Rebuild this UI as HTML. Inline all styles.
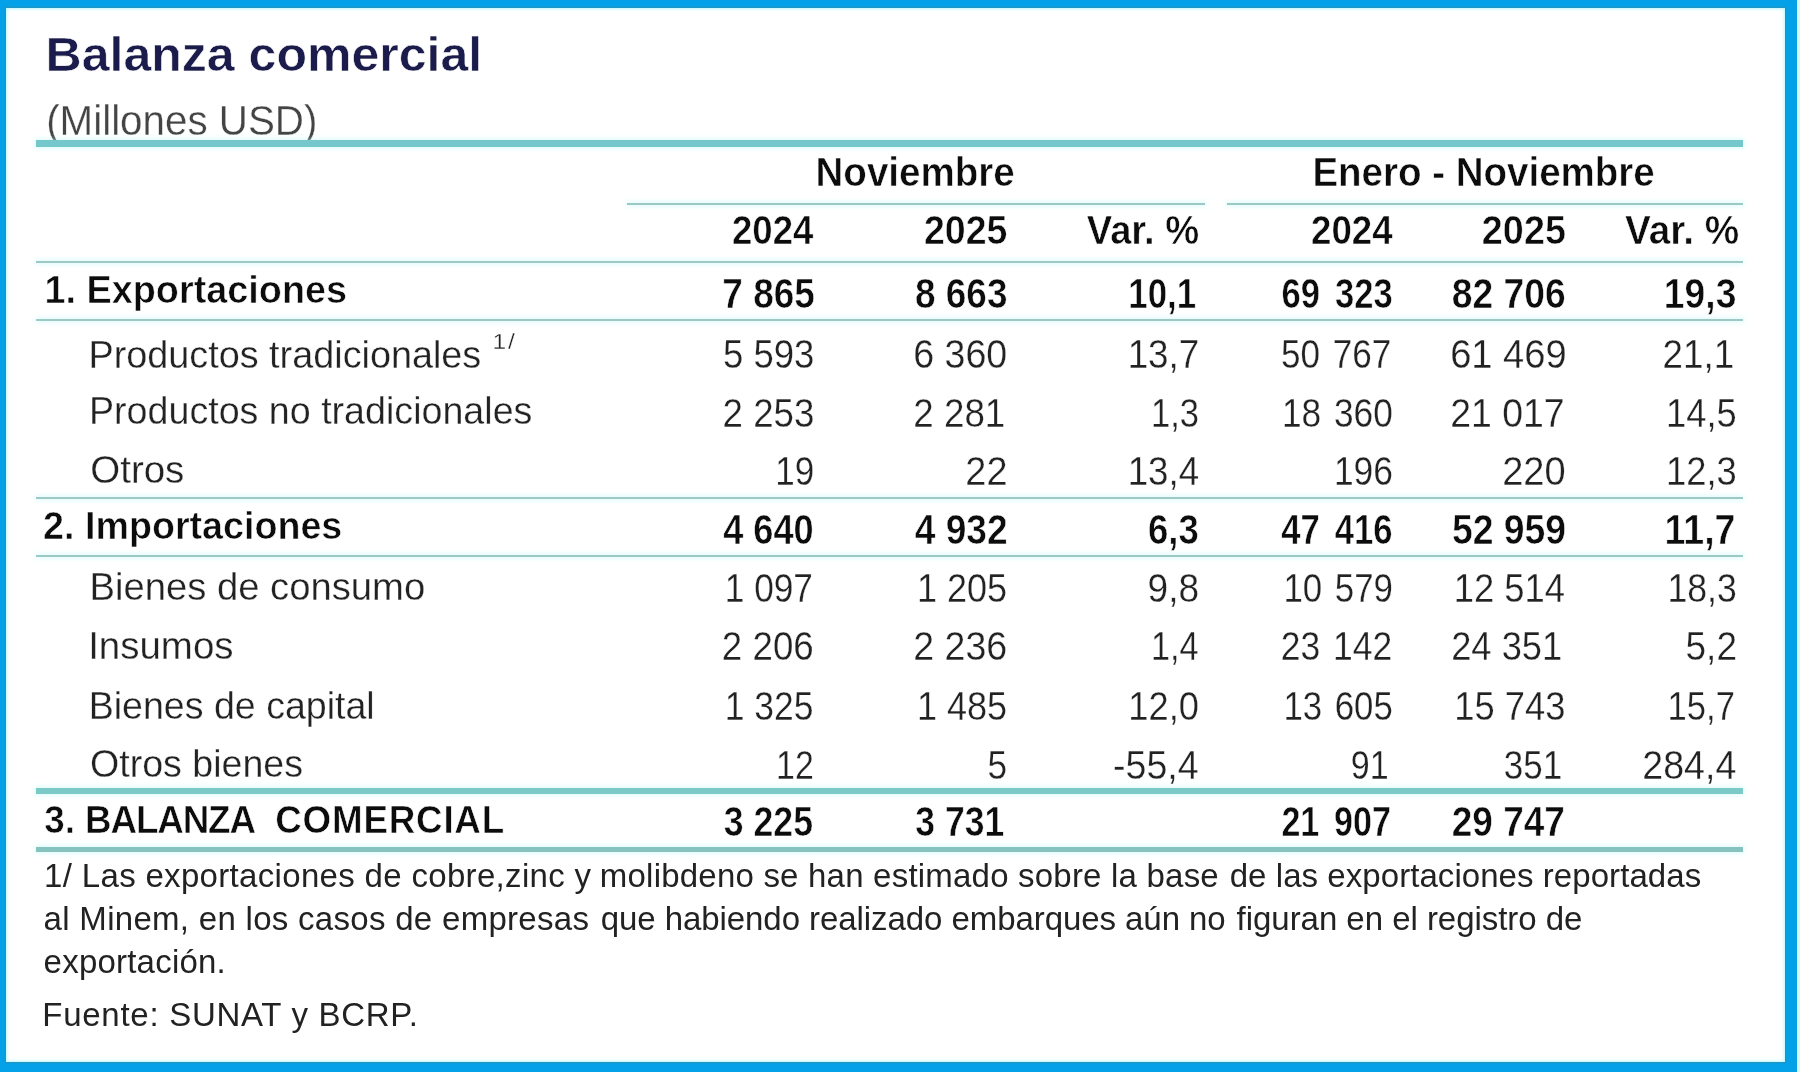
<!DOCTYPE html>
<html lang="es">
<head>
<meta charset="utf-8">
<title>Balanza comercial</title>
<style>
html,body{margin:0;padding:0;background:#fff;}
body{width:1800px;height:1072px;overflow:hidden;position:relative;
 font-family:"Liberation Sans",sans-serif;}
#soft{position:absolute;left:-20px;top:-20px;width:1840px;height:1112px;filter:blur(0.6px);}
#page{position:absolute;left:20px;top:20px;width:1800px;height:1072px;}
#frame{position:absolute;left:-20px;top:-20px;width:1840px;height:1112px;background:#04a1e8;}
#strip{position:absolute;left:1797.4px;top:-20px;width:22.6px;height:1112px;background:#d6fbfd;}
#paper{position:absolute;left:5.6px;top:8px;width:1779.7px;height:1053.8px;background:#fff;
 box-shadow:0 0 0 1.3px #1f95c2, inset 0 0 3.5px .5px rgba(150,243,252,.9);}
.t{position:absolute;left:0;white-space:pre;line-height:1;margin:0;padding:0;transform-origin:0 50%;}
.t{-webkit-text-stroke:.3px #fff;paint-order:fill stroke;}
.b{font-weight:700;-webkit-text-stroke:.55px #fff;}
.f{-webkit-text-stroke:0;}
.ln{position:absolute;z-index:2;box-shadow:0 0 5px 1px rgba(185,245,245,.55);}
</style>
</head>
<body>
<div id="soft"><div id="page">
<div id="frame"></div>
<div id="strip"></div>
<div id="paper"></div>

<div class="ln" style="left:36.3px;top:139.60px;width:1707.0px;height:7.0px;background:#74c8cb"></div>
<div class="ln" style="left:627.4px;top:202.50px;width:578.1px;height:2.0px;background:#9cc8c5"></div>
<div class="ln" style="left:1227.3px;top:202.50px;width:516.0px;height:2.0px;background:#9cc8c5"></div>
<div class="ln" style="left:36.3px;top:261.00px;width:1707.0px;height:2.0px;background:#9cc8c5"></div>
<div class="ln" style="left:36.3px;top:319.20px;width:1707.0px;height:2.0px;background:#9cc8c5"></div>
<div class="ln" style="left:36.3px;top:496.90px;width:1707.0px;height:2.0px;background:#9cc8c5"></div>
<div class="ln" style="left:36.3px;top:555.30px;width:1707.0px;height:2.0px;background:#9cc8c5"></div>
<div class="ln" style="left:36.3px;top:788.20px;width:1707.0px;height:5.4px;background:#7bcac7"></div>
<div class="ln" style="left:36.3px;top:846.80px;width:1707.0px;height:5.2px;background:#86c3bf"></div>
<div id="title" class="t b" style="top:30px;font-size:49px;color:#1c1c4c;transform:translateX(45.50px) scaleX(1.0214)">Balanza comercial</div>
<div id="sub" class="t" style="top:100px;font-size:42px;color:#444;transform:translateX(46.18px) scaleX(0.9606)">(Millones USD)</div>
<div id="g1" class="t b" style="top:152px;font-size:40.5px;color:#0c0c0c;transform:translateX(815.49px) scaleX(0.9521)">Noviembre</div>
<div id="g2" class="t b" style="top:152px;font-size:40.5px;color:#0c0c0c;transform:translateX(1312.40px) scaleX(0.9508)">Enero - Noviembre</div>
<div id="h0" class="t b" style="top:210px;font-size:40.5px;color:#0c0c0c;transform:translateX(732.01px) scaleX(0.9037)">2024</div>
<div id="h1" class="t b" style="top:210px;font-size:40.5px;color:#0c0c0c;transform:translateX(923.98px) scaleX(0.9268)">2025</div>
<div id="h2" class="t b" style="top:210px;font-size:40.5px;color:#0c0c0c;transform:translateX(1086.81px) scaleX(0.9419)">Var. %</div>
<div id="h3" class="t b" style="top:210px;font-size:40.5px;color:#0c0c0c;transform:translateX(1311.11px) scaleX(0.9048)">2024</div>
<div id="h4" class="t b" style="top:210px;font-size:40.5px;color:#0c0c0c;transform:translateX(1481.87px) scaleX(0.9325)">2025</div>
<div id="h5" class="t b" style="top:210px;font-size:40.5px;color:#0c0c0c;transform:translateX(1625.01px) scaleX(0.9563)">Var. %</div>
<div id="l0" class="t b" style="top:270px;font-size:39.3px;color:#0c0c0c;transform:translateX(44.44px) scaleX(0.9622)">1. Exportaciones</div>
<div id="n0_0" class="t b" style="top:273px;font-size:42px;color:#0c0c0c;transform:translateX(722.33px) scaleX(0.8795)">7 865</div>
<div id="n0_1" class="t b" style="top:273px;font-size:42px;color:#0c0c0c;transform:translateX(914.99px) scaleX(0.8796)">8 663</div>
<div id="n0_2" class="t b" style="top:273px;font-size:42px;color:#0c0c0c;transform:translateX(1128.32px) scaleX(0.8305)">10,1</div>
<div id="n0_3" class="t b" style="top:273px;font-size:42px;color:#0c0c0c;word-spacing:6.50px;transform:translateX(1281.39px) scaleX(0.8245)">69 323</div>
<div id="n0_4" class="t b" style="top:273px;font-size:42px;color:#0c0c0c;transform:translateX(1451.78px) scaleX(0.8872)">82 706</div>
<div id="n0_5" class="t b" style="top:273px;font-size:42px;color:#0c0c0c;transform:translateX(1663.87px) scaleX(0.8867)">19,3</div>
<div id="l1" class="t" style="top:335px;font-size:39.3px;color:#222;transform:translateX(88.48px) scaleX(0.9616)">Productos tradicionales</div>
<div id="n1_0" class="t" style="top:334px;font-size:40.5px;color:#222;transform:translateX(722.94px) scaleX(0.9024)">5 593</div>
<div id="n1_1" class="t" style="top:334px;font-size:40.5px;color:#222;transform:translateX(913.32px) scaleX(0.9267)">6 360</div>
<div id="n1_2" class="t" style="top:334px;font-size:40.5px;color:#222;transform:translateX(1127.64px) scaleX(0.9090)">13,7</div>
<div id="n1_3" class="t" style="top:334px;font-size:40.5px;color:#222;word-spacing:3.50px;transform:translateX(1281.10px) scaleX(0.8652)">50 767</div>
<div id="n1_4" class="t" style="top:334px;font-size:40.5px;color:#222;transform:translateX(1450.20px) scaleX(0.9393)">61 469</div>
<div id="n1_5" class="t" style="top:334px;font-size:40.5px;color:#222;transform:translateX(1662.56px) scaleX(0.9074)">21,1</div>
<div id="l2" class="t" style="top:391px;font-size:39.3px;color:#222;transform:translateX(88.99px) scaleX(0.9574)">Productos no tradicionales</div>
<div id="n2_0" class="t" style="top:393px;font-size:40.5px;color:#222;transform:translateX(722.57px) scaleX(0.9061)">2 253</div>
<div id="n2_1" class="t" style="top:393px;font-size:40.5px;color:#222;transform:translateX(913.36px) scaleX(0.9070)">2 281</div>
<div id="n2_2" class="t" style="top:393px;font-size:40.5px;color:#222;transform:translateX(1151.01px) scaleX(0.8525)">1,3</div>
<div id="n2_3" class="t" style="top:393px;font-size:40.5px;color:#222;word-spacing:3.50px;transform:translateX(1281.96px) scaleX(0.8699)">18 360</div>
<div id="n2_4" class="t" style="top:393px;font-size:40.5px;color:#222;transform:translateX(1450.23px) scaleX(0.9234)">21 017</div>
<div id="n2_5" class="t" style="top:393px;font-size:40.5px;color:#222;transform:translateX(1666.08px) scaleX(0.8958)">14,5</div>
<div id="l3" class="t" style="top:450px;font-size:39.3px;color:#222;transform:translateX(90.27px) scaleX(0.9791)">Otros</div>
<div id="n3_0" class="t" style="top:451px;font-size:40.5px;color:#222;transform:translateX(775.37px) scaleX(0.8644)">19</div>
<div id="n3_1" class="t" style="top:451px;font-size:40.5px;color:#222;transform:translateX(965.31px) scaleX(0.9354)">22</div>
<div id="n3_2" class="t" style="top:451px;font-size:40.5px;color:#222;transform:translateX(1127.65px) scaleX(0.9058)">13,4</div>
<div id="n3_3" class="t" style="top:451px;font-size:40.5px;color:#222;word-spacing:3.50px;transform:translateX(1333.95px) scaleX(0.8730)">196</div>
<div id="n3_4" class="t" style="top:451px;font-size:40.5px;color:#222;transform:translateX(1502.20px) scaleX(0.9393)">220</div>
<div id="n3_5" class="t" style="top:451px;font-size:40.5px;color:#222;transform:translateX(1666.08px) scaleX(0.8970)">12,3</div>
<div id="l4" class="t b" style="top:506px;font-size:39.3px;color:#0c0c0c;transform:translateX(43.08px) scaleX(0.9582)">2. Importaciones</div>
<div id="n4_0" class="t b" style="top:509px;font-size:42px;color:#0c0c0c;transform:translateX(723.16px) scaleX(0.8614)">4 640</div>
<div id="n4_1" class="t b" style="top:509px;font-size:42px;color:#0c0c0c;transform:translateX(914.64px) scaleX(0.8848)">4 932</div>
<div id="n4_2" class="t b" style="top:509px;font-size:42px;color:#0c0c0c;transform:translateX(1147.92px) scaleX(0.8702)">6,3</div>
<div id="n4_3" class="t b" style="top:509px;font-size:42px;color:#0c0c0c;word-spacing:6.50px;transform:translateX(1281.18px) scaleX(0.8253)">47 416</div>
<div id="n4_4" class="t b" style="top:509px;font-size:42px;color:#0c0c0c;transform:translateX(1451.88px) scaleX(0.8895)">52 959</div>
<div id="n4_5" class="t b" style="top:509px;font-size:42px;color:#0c0c0c;transform:translateX(1664.45px) scaleX(0.8937)">11,7</div>
<div id="l5" class="t" style="top:567px;font-size:39.3px;color:#222;transform:translateX(89.44px) scaleX(0.9726)">Bienes de consumo</div>
<div id="n5_0" class="t" style="top:568px;font-size:40.5px;color:#222;transform:translateX(724.76px) scaleX(0.8698)">1 097</div>
<div id="n5_1" class="t" style="top:568px;font-size:40.5px;color:#222;transform:translateX(916.90px) scaleX(0.8898)">1 205</div>
<div id="n5_2" class="t" style="top:568px;font-size:40.5px;color:#222;transform:translateX(1147.53px) scaleX(0.9145)">9,8</div>
<div id="n5_3" class="t" style="top:568px;font-size:40.5px;color:#222;word-spacing:3.50px;transform:translateX(1283.39px) scaleX(0.8606)">10 579</div>
<div id="n5_4" class="t" style="top:568px;font-size:40.5px;color:#222;transform:translateX(1453.67px) scaleX(0.8982)">12 514</div>
<div id="n5_5" class="t" style="top:568px;font-size:40.5px;color:#222;transform:translateX(1667.53px) scaleX(0.8781)">18,3</div>
<div id="l6" class="t" style="top:626px;font-size:39.3px;color:#222;transform:translateX(88.14px) scaleX(0.9790)">Insumos</div>
<div id="n6_0" class="t" style="top:626px;font-size:40.5px;color:#222;transform:translateX(721.87px) scaleX(0.9061)">2 206</div>
<div id="n6_1" class="t" style="top:626px;font-size:40.5px;color:#222;transform:translateX(913.32px) scaleX(0.9266)">2 236</div>
<div id="n6_2" class="t" style="top:626px;font-size:40.5px;color:#222;transform:translateX(1151.04px) scaleX(0.8425)">1,4</div>
<div id="n6_3" class="t" style="top:626px;font-size:40.5px;color:#222;word-spacing:3.50px;transform:translateX(1280.73px) scaleX(0.8761)">23 142</div>
<div id="n6_4" class="t" style="top:626px;font-size:40.5px;color:#222;transform:translateX(1451.19px) scaleX(0.8959)">24 351</div>
<div id="n6_5" class="t" style="top:626px;font-size:40.5px;color:#222;transform:translateX(1685.52px) scaleX(0.9144)">5,2</div>
<div id="l7" class="t" style="top:686px;font-size:39.3px;color:#222;transform:translateX(88.70px) scaleX(0.9556)">Bienes de capital</div>
<div id="n7_0" class="t" style="top:686px;font-size:40.5px;color:#222;transform:translateX(724.74px) scaleX(0.8764)">1 325</div>
<div id="n7_1" class="t" style="top:686px;font-size:40.5px;color:#222;transform:translateX(916.90px) scaleX(0.8898)">1 485</div>
<div id="n7_2" class="t" style="top:686px;font-size:40.5px;color:#222;transform:translateX(1128.28px) scaleX(0.8959)">12,0</div>
<div id="n7_3" class="t" style="top:686px;font-size:40.5px;color:#222;word-spacing:3.50px;transform:translateX(1283.39px) scaleX(0.8592)">13 605</div>
<div id="n7_4" class="t" style="top:686px;font-size:40.5px;color:#222;transform:translateX(1454.27px) scaleX(0.8978)">15 743</div>
<div id="n7_5" class="t" style="top:686px;font-size:40.5px;color:#222;transform:translateX(1667.61px) scaleX(0.8534)">15,7</div>
<div id="l8" class="t" style="top:744px;font-size:39.3px;color:#222;transform:translateX(90.01px) scaleX(0.9560)">Otros bienes</div>
<div id="n8_0" class="t" style="top:745px;font-size:40.5px;color:#222;transform:translateX(776.06px) scaleX(0.8366)">12</div>
<div id="n8_1" class="t" style="top:745px;font-size:40.5px;color:#222;transform:translateX(987.49px) scaleX(0.8681)">5</div>
<div id="n8_2" class="t" style="top:745px;font-size:40.5px;color:#222;transform:translateX(1113.00px) scaleX(0.9270)">-55,4</div>
<div id="n8_3" class="t" style="top:745px;font-size:40.5px;color:#222;word-spacing:3.50px;transform:translateX(1350.87px) scaleX(0.8411)">91</div>
<div id="n8_4" class="t" style="top:745px;font-size:40.5px;color:#222;transform:translateX(1503.69px) scaleX(0.8645)">351</div>
<div id="n8_5" class="t" style="top:745px;font-size:40.5px;color:#222;transform:translateX(1642.32px) scaleX(0.9270)">284,4</div>
<div id="l9" class="t b" style="top:800px;font-size:39.3px;color:#0c0c0c;transform:translateX(44.17px) scaleX(0.9368)">3. <span style="letter-spacing:-1.25px">BALANZA</span>  <span style="letter-spacing:.8px">COMERCIAL</span></div>
<div id="n9_0" class="t b" style="top:801px;font-size:42px;color:#0c0c0c;transform:translateX(723.80px) scaleX(0.8490)">3 225</div>
<div id="n9_1" class="t b" style="top:801px;font-size:42px;color:#0c0c0c;transform:translateX(915.30px) scaleX(0.8461)">3 731</div>
<div id="n9_3" class="t b" style="top:801px;font-size:42px;color:#0c0c0c;word-spacing:6.50px;transform:translateX(1281.39px) scaleX(0.8113)">21 907</div>
<div id="n9_4" class="t b" style="top:801px;font-size:42px;color:#0c0c0c;transform:translateX(1451.80px) scaleX(0.8805)">29 747</div>
<div id="sup" class="t" style="top:331px;font-size:22px;color:#222;letter-spacing:1.500px;transform:translateX(492.56px) scaleX(1.1181)">1/</div>
<div id="f1a" class="t f" style="top:859px;font-size:33px;color:#222;letter-spacing:0.323px;transform:translateX(44.12px) scaleX(1.0000)">1/ Las exportaciones de cobre,zinc y</div>
<div id="f1b" class="t f" style="top:859px;font-size:33px;color:#222;letter-spacing:0.210px;transform:translateX(599.86px) scaleX(1.0000)">molibdeno se han estimado sobre la base</div>
<div id="f1c" class="t f" style="top:859px;font-size:33px;color:#222;letter-spacing:0.061px;transform:translateX(1229.68px) scaleX(1.0000)">de las exportaciones reportadas</div>
<div id="f2a" class="t f" style="top:902px;font-size:33px;color:#222;letter-spacing:0.296px;transform:translateX(43.60px) scaleX(1.0000)">al Minem, en los casos de empresas</div>
<div id="f2b" class="t f" style="top:902px;font-size:33px;color:#222;letter-spacing:-0.066px;transform:translateX(600.68px) scaleX(1.0000)">que habiendo realizado embarques aún no</div>
<div id="f2c" class="t f" style="top:902px;font-size:33px;color:#222;letter-spacing:-0.036px;transform:translateX(1236.59px) scaleX(1.0000)">figuran en el registro de</div>
<div id="f3" class="t f" style="top:945px;font-size:33px;color:#222;letter-spacing:0.218px;transform:translateX(43.60px) scaleX(1.0000)">exportación.</div>
<div id="src" class="t f" style="top:998px;font-size:33px;color:#222;letter-spacing:0.715px;transform:translateX(42.36px) scaleX(1.0000)">Fuente: SUNAT y BCRP.</div>
</div></div>
</body>
</html>
